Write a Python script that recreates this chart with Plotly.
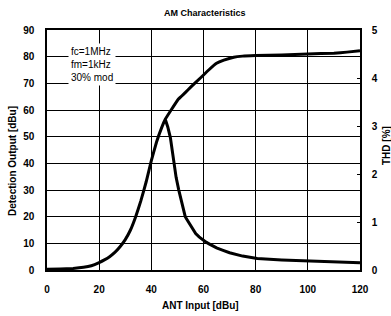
import plotly.graph_objects as go

# Detection output (left axis, dBu) vs ANT input (dBu)
out_x = [0, 5, 10, 14, 17, 20, 22, 24, 26, 28, 30, 32, 34, 36, 38, 40, 42, 44, 45.4,
         47.4, 50.4, 53, 55, 58.8, 62, 65, 67.8, 71.6, 75, 80, 90, 100, 110, 115, 120]
out_y = [0.3, 0.4, 0.6, 1.0, 1.6, 2.8, 3.8, 5.0, 6.6, 8.7, 11.4, 15.0, 20, 26, 33, 41, 48, 53.5, 56.6,
         59.7, 64.1, 66.5, 68.5, 72, 75, 77.5, 78.7, 79.8, 80.2, 80.4, 80.6, 81, 81.3, 81.7, 82.2]

# THD (right axis, %) vs ANT input (dBu)
thd_x = [45.4, 46.3, 47.3, 48.0, 48.6, 49.5, 50.5, 51.7, 53, 54, 55, 56, 57, 58.3, 59.7, 61, 62.3, 65, 67.5, 70, 75, 80.6, 90, 100, 110, 120]
thd_y = [3.13, 2.98, 2.76, 2.48, 2.2, 1.93, 1.67, 1.38, 1.11, 1.02, 0.93, 0.84, 0.76, 0.69, 0.63, 0.58, 0.54, 0.46, 0.41, 0.36, 0.29, 0.24, 0.21, 0.19, 0.17, 0.15]

x_ticks = [0, 20, 40, 60, 80, 100, 120]
y_ticks = [0, 10, 20, 30, 40, 50, 60, 70, 80, 90]
thd_ticks = [0, 1, 2, 3, 4, 5]

FONT = "Liberation Sans Narrow, Arial Narrow, Liberation Sans, Arial"

fig = go.Figure()
fig.add_trace(go.Scatter(x=out_x, y=out_y, mode="lines", line=dict(color="black", width=3, shape="spline", smoothing=0.3),
                         name="Detection Output", showlegend=False))
fig.add_trace(go.Scatter(x=thd_x, y=thd_y, mode="lines", line=dict(color="black", width=3, shape="linear"),
                         name="THD", yaxis="y2", showlegend=False))

W, H = 391, 316
l, r, t, b = 47, 31, 30, 46
pw, ph = W - l - r, H - t - b

def px(x, y):
    return (x - l) / pw, 1 - (y - t) / ph

def ann(text, x, y, **kw):
    ax, ay = px(x, y)
    d = dict(text=text, x=ax, y=ay, xref="paper", yref="paper", showarrow=False,
             xanchor="center", yanchor="middle")
    d.update(kw)
    return d

fig.update_layout(
    width=W, height=H,
    margin=dict(l=l, r=r, t=t, b=b, autoexpand=False),
    paper_bgcolor="white", plot_bgcolor="white",
    font=dict(family=FONT, color="black", size=10),
    xaxis=dict(range=[0, 120], tickvals=x_ticks, showgrid=True, gridcolor="black", gridwidth=1.3,
               showline=True, linecolor="black", linewidth=1.5, mirror=True, zeroline=False, automargin=False,
               ticks="", tickfont=dict(size=10, family=FONT, weight="bold"), ticklabelstandoff=9),
    yaxis=dict(range=[0, 90], tickvals=y_ticks, showgrid=True, gridcolor="black", gridwidth=1.3,
               showline=True, linecolor="black", linewidth=1.5, zeroline=False, automargin=False,
               ticks="", tickfont=dict(size=10, family=FONT, weight="bold"), ticklabelstandoff=9),
    yaxis2=dict(range=[0, 5], tickvals=thd_ticks, overlaying="y", side="right", showgrid=False,
                showline=True, linecolor="black", linewidth=1.5, zeroline=False, automargin=False,
                ticks="inside", ticklen=3, tickcolor="black",
                tickfont=dict(size=10, family=FONT, weight="bold"), ticklabelstandoff=8),
    annotations=[
        ann("AM Characteristics", 205, 13, font=dict(size=9, family=FONT, weight="bold")),
        ann("Detection Output [dBu]", 12, 161, textangle=-90, font=dict(size=10, family=FONT, weight="bold")),
        ann("ANT Input [dBu]", 200, 305, font=dict(size=10, family=FONT, weight="bold")),
        ann("THD [%]", 386, 146, textangle=-90, font=dict(size=10, family=FONT, weight="bold")),
        ann("fc=1MHz<br>fm=1kHz<br>30% mod", 68, 43, align="left", xanchor="left", yanchor="top",
            bgcolor="white", borderpad=2, font=dict(size=10, family=FONT)),
    ],
)

fig.write_html("out.html", config={"displayModeBar": False},
               post_script="document.body.style.margin='0';document.body.style.padding='0';")
